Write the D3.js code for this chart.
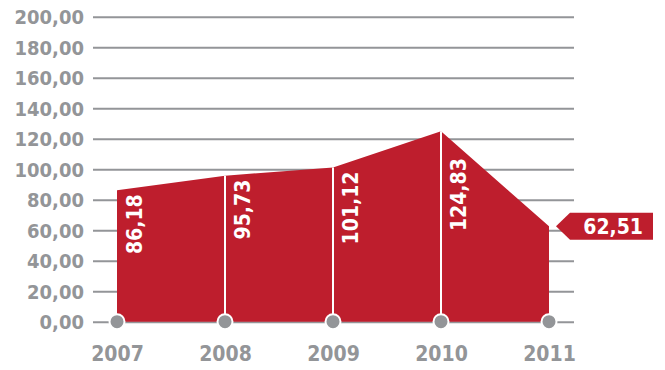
<!DOCTYPE html>
<html>
<head>
<meta charset="utf-8">
<script src="https://cdn.jsdelivr.net/npm/d3@7"></script>
<style>
  html, body { margin: 0; padding: 0; background: #fff; }
  svg { display: block; }
  text { font-family: "DejaVu Sans Condensed", "DejaVu Sans", sans-serif; font-stretch: condensed; font-weight: bold; }
</style>
</head>
<body>
<svg id="chart" width="665" height="370"></svg>
<script>
// Yearly values
const years = ["2007", "2008", "2009", "2010", "2011"];
const values = [86.18, 95.73, 101.12, 124.83, 62.51];
const yTicks = [0, 20, 40, 60, 80, 100, 120, 140, 160, 180, 200];

const RED = "#be1e2d";
const GREY = "#939598";

const locale = d3.formatLocale({ decimal: ",", thousands: ".", grouping: [3], currency: ["", " €"] });
const fmt = locale.format(".2f");

const svg = d3.select("#chart");

const x = d3.scalePoint().domain(years).range([117, 549]);
const y = d3.scaleLinear().domain([0, 200]).range([321.7, 16.7]);

const data = years.map((yr, i) => ({ year: yr, value: values[i] }));

// Horizontal gridlines with tick labels
const yAxis = d3.axisLeft(y)
  .tickValues(yTicks)
  .tickSize(-(574 - 93))
  .tickPadding(9)
  .tickFormat(fmt);

const gy = svg.append("g")
  .attr("transform", "translate(93,0)")
  .call(yAxis);
gy.select(".domain").remove();
gy.selectAll(".tick line").attr("stroke", GREY).attr("stroke-width", 2);
gy.selectAll(".tick text")
  .attr("fill", GREY)
  .attr("font-size", 20)
  .attr("dy", "0.36em");

// Filled area
const area = d3.area()
  .x(d => x(d.year))
  .y0(y(0))
  .y1(d => y(d.value));

svg.append("path")
  .datum(data)
  .attr("d", area)
  .attr("fill", RED);

// White separators at inner years
svg.append("g").selectAll("line")
  .data(data.slice(1, -1))
  .join("line")
  .attr("x1", d => x(d.year))
  .attr("x2", d => x(d.year))
  .attr("y1", d => y(d.value))
  .attr("y2", y(0))
  .attr("stroke", "#fff")
  .attr("stroke-width", 2);

// Height of the area's top edge at a given pixel x
function topAt(px) {
  for (let i = 0; i < data.length - 1; i++) {
    const x0 = x(data[i].year), x1 = x(data[i + 1].year);
    if (px >= x0 && px <= x1) {
      const t = (px - x0) / (x1 - x0);
      return y(data[i].value) + t * (y(data[i + 1].value) - y(data[i].value));
    }
  }
  return y(data[data.length - 1].value);
}

// Rotated value labels inside the area
svg.append("g").selectAll("text")
  .data(data.slice(0, -1))
  .join("text")
  .attr("transform", d => {
    const cx = x(d.year) + 17;
    const top = Math.max(y(d.value), topAt(cx + 9)) + 4;
    return `translate(${cx},${top}) rotate(-90)`;
  })
  .attr("text-anchor", "end")
  .attr("dy", "0.36em")
  .attr("fill", "#fff")
  .attr("font-size", 21)
  .text(d => fmt(d.value));

// Callout for the final year
const last = data[data.length - 1];
const ly = y(last.value);
const lx = x(last.year) + 7;
const bx0 = lx + 14, bx1 = 653, bh = 27;
svg.append("path")
  .attr("d", `M${lx},${ly} L${bx0},${ly - bh / 2} L${bx1},${ly - bh / 2} L${bx1},${ly + bh / 2} L${bx0},${ly + bh / 2} Z`)
  .attr("fill", RED);
svg.append("text")
  .attr("x", bx1 - 10)
  .attr("y", ly)
  .attr("dy", "0.36em")
  .attr("text-anchor", "end")
  .attr("fill", "#fff")
  .attr("font-size", 21)
  .text(fmt(last.value));

// Year markers on the baseline
svg.append("g").selectAll("circle")
  .data(data)
  .join("circle")
  .attr("cx", d => x(d.year))
  .attr("cy", y(0))
  .attr("r", 7.5)
  .attr("fill", GREY)
  .attr("stroke", "#fff")
  .attr("stroke-width", 2);

// Year labels
const xAxis = d3.axisBottom(x).tickSize(0).tickPadding(0);
const gx = svg.append("g")
  .attr("transform", `translate(0,${361})`)
  .call(xAxis);
gx.select(".domain").remove();
gx.selectAll(".tick text")
  .attr("fill", GREY)
  .attr("font-size", 21)
  .attr("dy", 0)
  .attr("y", 0);
</script>
</body>
</html>
